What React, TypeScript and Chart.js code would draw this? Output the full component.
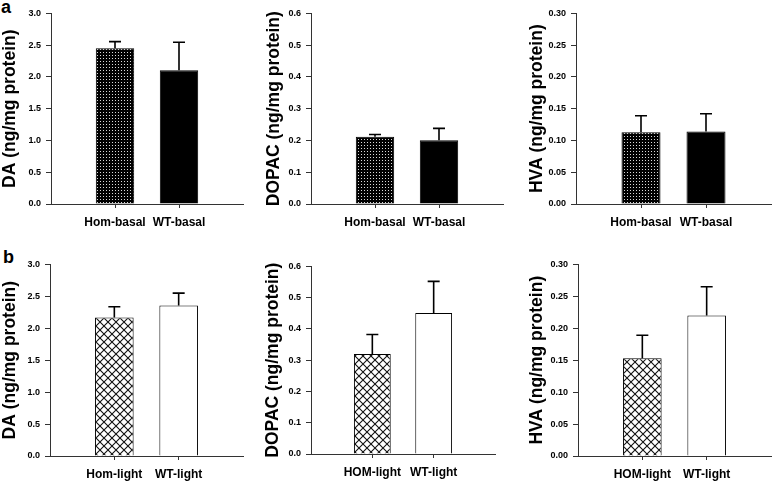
import React, { useEffect, useRef } from "react";
import { Chart, registerables } from "chart.js";

Chart.register(...registerables);

// ---- data ----
const basalCategories = ["Hom-basal", "WT-basal"];
const lightCategories = ["Hom-light", "WT-light"];
const lightCategoriesUpper = ["HOM-light", "WT-light"];

const daBasalMeans = [2.45, 2.105];
const daBasalErrors = [0.105, 0.44];
const dopacBasalMeans = [0.212, 0.201];
const dopacBasalErrors = [0.007, 0.037];
const hvaBasalMeans = [0.113, 0.114];
const hvaBasalErrors = [0.026, 0.028];

const daLightMeans = [2.17, 2.355];
const daLightErrors = [0.167, 0.196];
const dopacLightMeans = [0.32, 0.451];
const dopacLightErrors = [0.062, 0.101];
const hvaLightMeans = [0.153, 0.22];
const hvaLightErrors = [0.036, 0.045];

const daTicks = { max: 3.0, step: 0.5, decimals: 1 };
const dopacTicks = { max: 0.6, step: 0.1, decimals: 1 };
const hvaTicks = { max: 0.3, step: 0.05, decimals: 2 };

const daTitle = "DA (ng/mg protein)";
const dopacTitle = "DOPAC (ng/mg protein)";
const hvaTitle = "HVA (ng/mg protein)";

const FONT = "'Liberation Sans', Arial, Helvetica, sans-serif";

type Fill = "dense" | "black" | "hatch" | "white";

interface PanelProps {
  categories: string[];
  means: number[];
  errors: number[];
  ticks: { max: number; step: number; decimals: number };
  title: string;
  fills: Fill[];
  titleX: number;
  axisX: number;
  rightX: number;
  topY: number;
  bottomY: number;
}

function makeFill(ctx: CanvasRenderingContext2D, kind: Fill): any {
  if (kind === "black") return "#000000";
  if (kind === "white") return "#ffffff";
  const tile = document.createElement("canvas");
  if (kind === "dense") {
    tile.width = 3;
    tile.height = 3;
    const t = tile.getContext("2d")!;
    t.fillStyle = "#000";
    t.fillRect(0, 0, 3, 3);
    t.fillStyle = "#d8d8d8";
    t.fillRect(1, 1, 1, 1);
    return ctx.createPattern(tile, "repeat");
  }
  tile.width = 8;
  tile.height = 8;
  const t = tile.getContext("2d")!;
  t.fillStyle = "#fff";
  t.fillRect(0, 0, 8, 8);
  t.strokeStyle = "#111";
  t.lineWidth = 1.1;
  t.beginPath();
  t.moveTo(0, 0);
  t.lineTo(8, 8);
  t.moveTo(8, 0);
  t.lineTo(0, 8);
  t.stroke();
  return ctx.createPattern(tile, "repeat");
}

const errorBarPlugin = {
  id: "errorBars",
  afterDatasetsDraw(chart: any) {
    const ctx = chart.ctx;
    const yScale = chart.scales.y;
    chart.data.datasets.forEach((ds: any, di: number) => {
      const meta = chart.getDatasetMeta(di);
      const errs = ds.errors as (number | null)[];
      meta.data.forEach((el: any, i: number) => {
        const v = ds.data[i];
        const e = errs[i];
        if (v == null || e == null) return;
        const x = el.x;
        const yTop = yScale.getPixelForValue(v + e);
        const yBar = yScale.getPixelForValue(v);
        ctx.save();
        ctx.strokeStyle = "#000";
        ctx.lineWidth = 1.6;
        ctx.beginPath();
        ctx.moveTo(x, yBar);
        ctx.lineTo(x, yTop);
        ctx.moveTo(x - 6, yTop);
        ctx.lineTo(x + 6, yTop);
        ctx.stroke();
        ctx.restore();
      });
    });
  },
};

function Panel(p: PanelProps) {
  const ref = useRef<HTMLCanvasElement | null>(null);
  const padTop = 8;
  const padRight = 2;
  const xH = 30;
  const left = Math.round(p.titleX - 10);
  const yW = p.axisX - left;
  const width = yW + (p.rightX - p.axisX) + padRight;
  const height = padTop + (p.bottomY - p.topY) + xH;
  const top = p.topY - padTop;

  useEffect(() => {
    const canvas = ref.current!;
    const ctx = canvas.getContext("2d")!;
    const labels = ["", ...p.categories, ""];
    const data = [null, ...p.means, null];
    const errors = [null, ...p.errors, null];
    const bg = ["transparent", ...p.fills.map((f) => makeFill(ctx, f)), "transparent"];
    const chart = new Chart(canvas, {
      type: "bar",
      data: {
        labels,
        datasets: [
          {
            data: data as any,
            errors,
            backgroundColor: bg,
            borderColor: "#000",
            borderWidth: 1,
            barPercentage: 0.6,
            categoryPercentage: 1,
          } as any,
        ],
      },
      options: {
        animation: false,
        responsive: false,
        events: [],
        layout: { padding: { top: padTop, right: padRight, left: 0, bottom: 0 } },
        plugins: { legend: { display: false }, tooltip: { enabled: false } },
        scales: {
          x: {
            type: "category",
            offset: false,
            afterFit: (s: any) => {
              s.height = xH;
            },
            grid: {
              offset: false,
              drawOnChartArea: false,
              drawTicks: true,
              tickLength: 4,
              color: (c: any) => (c.tick && c.tick.label ? "#333" : "rgba(0,0,0,0)"),
            },
            border: { display: true, color: "#333", width: 1 },
            ticks: {
              autoSkip: false,
              maxRotation: 0,
              padding: 7,
              color: "#000",
              font: { family: FONT, size: 12, weight: "bold" },
            },
          },
          y: {
            type: "linear",
            min: 0,
            max: p.ticks.max,
            afterFit: (s: any) => {
              s.width = yW;
            },
            grid: { drawOnChartArea: false, drawTicks: true, tickLength: 5, color: "#333" },
            border: { display: true, color: "#333", width: 1 },
            ticks: {
              stepSize: p.ticks.step,
              padding: 5,
              color: "#000",
              font: { family: FONT, size: 9, weight: "bold" },
              callback: (v: any) => Number(v).toFixed(p.ticks.decimals),
            },
            title: {
              display: true,
              text: p.title,
              color: "#000",
              padding: 0,
              font: { family: FONT, size: 17.5, weight: "bold" },
            },
          },
        },
      },
      plugins: [errorBarPlugin],
    } as any);
    return () => chart.destroy();
  }, []);

  return (
    <canvas
      ref={ref}
      width={width}
      height={height}
      style={{ position: "absolute", left, top, width, height }}
    />
  );
}

export default function App() {
  const letterStyle: React.CSSProperties = {
    position: "absolute",
    fontFamily: FONT,
    fontWeight: "bold",
    fontSize: 18,
    lineHeight: "18px",
    color: "#000",
  };
  return (
    <div
      style={{
        position: "absolute",
        left: 0,
        top: 0,
        width: 778,
        height: 481,
        background: "#fff",
        overflow: "hidden",
      }}
    >
      <div style={{ ...letterStyle, left: 1, top: -2.5 }}>a</div>
      <div style={{ ...letterStyle, left: 3, top: 248 }}>b</div>
      <Panel categories={basalCategories} means={daBasalMeans} errors={daBasalErrors} ticks={daTicks}
        title={daTitle} fills={["dense", "black"]} titleX={10} axisX={51} rightX={248} topY={11} bottomY={204} />
      <Panel categories={basalCategories} means={dopacBasalMeans} errors={dopacBasalErrors} ticks={dopacTicks}
        title={dopacTitle} fills={["dense", "black"]} titleX={274} axisX={311} rightX={508} topY={11} bottomY={204} />
      <Panel categories={basalCategories} means={hvaBasalMeans} errors={hvaBasalErrors} ticks={hvaTicks}
        title={hvaTitle} fills={["dense", "black"]} titleX={537} axisX={576} rightX={776} topY={11} bottomY={204} />
      <Panel categories={lightCategories} means={daLightMeans} errors={daLightErrors} ticks={daTicks}
        title={daTitle} fills={["hatch", "white"]} titleX={10} axisX={50} rightX={248} topY={262} bottomY={456} />
      <Panel categories={lightCategoriesUpper} means={dopacLightMeans} errors={dopacLightErrors} ticks={dopacTicks}
        title={dopacTitle} fills={["hatch", "white"]} titleX={273} axisX={311} rightX={500} topY={264} bottomY={454} />
      <Panel categories={lightCategoriesUpper} means={hvaLightMeans} errors={hvaLightErrors} ticks={hvaTicks}
        title={hvaTitle} fills={["hatch", "white"]} titleX={537} axisX={578} rightX={776} topY={262} bottomY={456} />
    </div>
  );
}
